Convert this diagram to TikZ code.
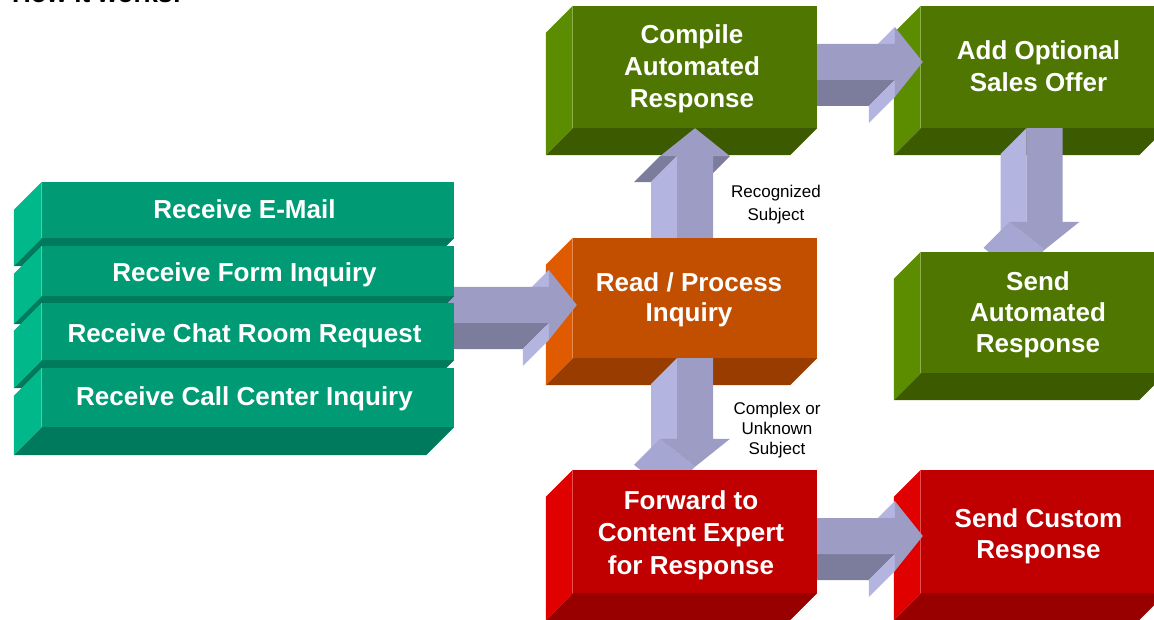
\documentclass[tikz,border=0pt]{standalone}
\usepackage{fontspec}
\setmainfont{Liberation Sans}
\usetikzlibrary{calc}
\pgfdeclarelayer{background}
\pgfsetlayers{background,main}

% face colours: F = front, S = left side, B = bottom
\definecolor{tealF}{RGB}{0,155,116}
\definecolor{tealS}{RGB}{0,184,138}
\definecolor{tealB}{RGB}{0,122,92}
\definecolor{oliveF}{RGB}{78,118,0}
\definecolor{oliveS}{RGB}{92,140,0}
\definecolor{oliveB}{RGB}{60,90,0}
\definecolor{rustF}{RGB}{194,78,0}
\definecolor{rustS}{RGB}{224,90,0}
\definecolor{rustB}{RGB}{152,60,0}
\definecolor{crimF}{RGB}{192,0,0}
\definecolor{crimS}{RGB}{224,0,0}
\definecolor{crimB}{RGB}{152,0,0}
% block arrow shades
\definecolor{arrF}{RGB}{156,156,196}
\definecolor{arrL}{RGB}{180,180,224}
\definecolor{arrM}{RGB}{166,166,210}
\definecolor{arrD}{RGB}{124,124,156}

\tikzset{
  facebox/.style={inner sep=0pt, minimum width=#1},
  caption/.style={inner sep=0pt, text=white, align=center, anchor=north,
                  font=\bfseries\fontsize{26}{32}\selectfont},
  stackcaption/.style={inner sep=0pt, text=white, anchor=base,
                  font=\bfseries\fontsize{26}{32}\selectfont},
  note/.style={inner sep=0pt, align=center, anchor=north, text=black},
}

% arrow dimensions (pt)
\newcommand\ArrShaft{18}
\newcommand\ArrHead{35}
\newcommand\ArrLen{28}
\newcommand\ArrDepth{26}

% extruded box behind a node: #1 node, #2 depth, #3 colour prefix
\newcommand\slab[3]{%
  \fill[#3S] (#1.north west) -- (#1.south west) -- ++(-#2,-#2)
        -- ($(#1.north west)+(-#2,-#2)$) -- cycle;
  \fill[#3B] (#1.south west) -- (#1.south east) -- ++(-#2,-#2)
        -- ($(#1.south west)+(-#2,-#2)$) -- cycle;
  \fill[#3F] (#1.south west) rectangle (#1.north east);
  \draw[#3S!70!white, line width=1pt] (#1.north west) -- (#1.south west);
}

% 3D block arrow pointing right: #1 tail, #2 tip
\newcommand\blockright[2]{%
  \path let \p1=(#1), \p2=(#2) in
    (\x1,\y1) coordinate (ar-tl)
    (\x2-\ArrLen,\y1) coordinate (ar-hb)
    (\x2,\y1) coordinate (ar-tp);
  \fill[arrD] ($(ar-tl)+(0,-\ArrShaft)$) -- ($(ar-hb)+(0,-\ArrShaft)$)
    -- ++(-\ArrDepth,-\ArrDepth) -- ($(ar-tl)+(-\ArrDepth,-\ArrShaft-\ArrDepth)$) -- cycle;
  \fill[arrL] ($(ar-hb)+(0,\ArrHead)$) -- ($(ar-hb)+(0,\ArrShaft)$)
    -- ++(-\ArrDepth,-\ArrDepth) -- ($(ar-hb)+(-\ArrDepth,\ArrHead-\ArrDepth)$) -- cycle;
  \fill[arrL] ($(ar-hb)+(0,-\ArrShaft)$) -- ($(ar-hb)+(0,-\ArrHead)$)
    -- ++(-\ArrDepth,-\ArrDepth) -- ($(ar-hb)+(-\ArrDepth,-\ArrShaft-\ArrDepth)$) -- cycle;
  \fill[arrF] ($(ar-tl)+(0,\ArrShaft)$) -- ($(ar-hb)+(0,\ArrShaft)$)
    -- ($(ar-hb)+(0,\ArrHead)$) -- (ar-tp) -- ($(ar-hb)+(0,-\ArrHead)$)
    -- ($(ar-hb)+(0,-\ArrShaft)$) -- ($(ar-tl)+(0,-\ArrShaft)$) -- cycle;
}

% 3D block arrow pointing up: #1 tail, #2 tip
\newcommand\blockup[2]{%
  \path let \p1=(#1), \p2=(#2) in
    (\x1,\y1) coordinate (ar-tl)
    (\x1,\y2-\ArrLen) coordinate (ar-hb)
    (\x1,\y2) coordinate (ar-tp);
  \fill[arrD] ($(ar-hb)+(-\ArrHead,0)$) -- ($(ar-hb)+(-\ArrShaft,0)$)
    -- ++(-\ArrDepth,-\ArrDepth) -- ($(ar-hb)+(-\ArrHead-\ArrDepth,-\ArrDepth)$) -- cycle;
  \fill[arrD] ($(ar-hb)+(\ArrShaft,0)$) -- ($(ar-hb)+(\ArrHead,0)$)
    -- ++(-\ArrDepth,-\ArrDepth) -- ($(ar-hb)+(\ArrShaft-\ArrDepth,-\ArrDepth)$) -- cycle;
  \fill[arrL] ($(ar-hb)+(-\ArrShaft,0)$) -- ($(ar-tl)+(-\ArrShaft,0)$)
    -- ++(-\ArrDepth,-\ArrDepth) -- ($(ar-hb)+(-\ArrShaft-\ArrDepth,-\ArrDepth)$) -- cycle;
  \fill[arrF] ($(ar-tl)+(-\ArrShaft,0)$) -- ($(ar-hb)+(-\ArrShaft,0)$)
    -- ($(ar-hb)+(-\ArrHead,0)$) -- (ar-tp) -- ($(ar-hb)+(\ArrHead,0)$)
    -- ($(ar-hb)+(\ArrShaft,0)$) -- ($(ar-tl)+(\ArrShaft,0)$) -- cycle;
}

% 3D block arrow pointing down: #1 tail, #2 tip
\newcommand\blockdown[2]{%
  \path let \p1=(#1), \p2=(#2) in
    (\x1,\y1) coordinate (ar-tl)
    (\x1,\y2+\ArrLen) coordinate (ar-hb)
    (\x1,\y2) coordinate (ar-tp);
  \fill[arrL] ($(ar-tl)+(-\ArrShaft,0)$) -- ($(ar-hb)+(-\ArrShaft,0)$)
    -- ++(-\ArrDepth,-\ArrDepth) -- ($(ar-tl)+(-\ArrShaft-\ArrDepth,-\ArrDepth)$) -- cycle;
  \fill[arrM] ($(ar-hb)+(-\ArrHead,0)$) -- (ar-tp)
    -- ++(-\ArrDepth,-\ArrDepth) -- ($(ar-hb)+(-\ArrHead-\ArrDepth,-\ArrDepth)$) -- cycle;
  \fill[arrF] ($(ar-tl)+(-\ArrShaft,0)$) -- ($(ar-hb)+(-\ArrShaft,0)$)
    -- ($(ar-hb)+(-\ArrHead,0)$) -- (ar-tp) -- ($(ar-hb)+(\ArrHead,0)$)
    -- ($(ar-hb)+(\ArrShaft,0)$) -- ($(ar-tl)+(\ArrShaft,0)$) -- cycle;
}

\begin{document}
\begin{tikzpicture}[x=1pt,y=1pt]
\useasboundingbox (0,0) rectangle (1154,-620);

\node[anchor=base west, inner sep=0pt, font=\bfseries\fontsize{26}{30}\selectfont]
  (title) at (12,-3) {How it works:};

% incoming channels (front faces)
\node[facebox=412pt, minimum height=56pt] (s1) at (248,-210)   {};
\node[facebox=412pt, minimum height=50pt] (s2) at (248,-271)   {};
\node[facebox=412pt, minimum height=57pt] (s3) at (248,-331.5) {};
\node[facebox=412pt, minimum height=59pt] (s4) at (248,-397.5) {};

% process steps (front faces)
\node[facebox=244pt, minimum height=122pt] (compile)  at (695,-67)      {};
\node[facebox=245pt, minimum height=122pt] (add)      at (1043.5,-67)   {};
\node[facebox=244pt, minimum height=120pt] (read)     at (695,-298)     {};
\node[facebox=245pt, minimum height=121pt] (sendauto) at (1043.5,-312.5) {};
\node[facebox=244pt, minimum height=123pt] (forward)  at (695,-531.5)   {};
\node[facebox=245pt, minimum height=123pt] (custom)   at (1043.5,-531.5) {};

% captions
\node[stackcaption] (s1-text) at (244.5,-219) {Receive E-Mail};
\node[stackcaption] (s2-text) at (244.5,-282) {Receive Form Inquiry};
\node[stackcaption] (s3-text) at (244.5,-342.5) {Receive Chat Room Request};
\node[stackcaption] (s4-text) at (244.5,-405) {Receive Call Center Inquiry};

\node[caption] (compile-text) at (692,-24) {Compile\\Automated\\Response};
\node[caption] (add-text) at (1038.5,-40) {Add Optional\\Sales Offer};
\node[caption, font=\bfseries\fontsize{26}{30}\selectfont] (read-text) at (689,-272)
  {Read / Process\\Inquiry};
\node[caption, font=\bfseries\fontsize{26}{31}\selectfont] (sendauto-text) at (1038,-271)
  {Send\\Automated\\Response};
\node[caption, font=\bfseries\fontsize{26}{32.5}\selectfont] (forward-text) at (691,-490)
  {Forward to\\Content Expert\\for Response};
\node[caption, font=\bfseries\fontsize{26}{31}\selectfont] (custom-text) at (1038.5,-508)
  {Send Custom\\Response};

% branch notes
\node[note, font=\fontsize{17}{23}\selectfont] (recognized) at (776,-184.6)
  {Recognized\\Subject};
\node[note, font=\fontsize{17}{20}\selectfont] (complex) at (777,-401.6)
  {Complex or\\Unknown\\Subject};

% arrow end points
\coordinate (a1tip) at ($(read.west)+(4,-7)$);
\path (a1tip -| s3.east) ++(-14,0) coordinate (a1tail);
\coordinate (a2tail) at ($(read.north)+(0,-12)$);
\coordinate (a2tip) at (compile.south);
\coordinate (a3tip) at ($(add.west)+(2,5)$);
\path (a3tip -| compile.east) ++(-12,0) coordinate (a3tail);
\coordinate (a4tail) at ($(add.south)+(1,0)$);
\coordinate (a4tip) at ($(sendauto.north)+(1,2)$);
\coordinate (a5tail) at (read.south);
\coordinate (a5tip) at ($(forward.north)+(0,3)$);
\coordinate (a6tip) at ($(custom.west)+(2,-4.5)$);
\path (a6tip -| forward.east) ++(-12,0) coordinate (a6tail);

\begin{pgfonlayer}{background}
  \fill[white] (0,0) rectangle (1154,-620);
  \slab{add}{27}{olive}
  \blockright{a3tail}{a3tip}
  \blockdown{a4tail}{a4tip}
  \slab{sendauto}{27}{olive}
  \slab{compile}{27}{olive}
  \blockup{a2tail}{a2tip}
  \slab{read}{27}{rust}
  \blockright{a1tail}{a1tip}
  \slab{s1}{28}{teal}
  \slab{s2}{28}{teal}
  \slab{s3}{28}{teal}
  \slab{s4}{28}{teal}
  \blockdown{a5tail}{a5tip}
  \slab{custom}{27}{crim}
  \blockright{a6tail}{a6tip}
  \slab{forward}{27}{crim}
\end{pgfonlayer}
\end{tikzpicture}
\end{document}
